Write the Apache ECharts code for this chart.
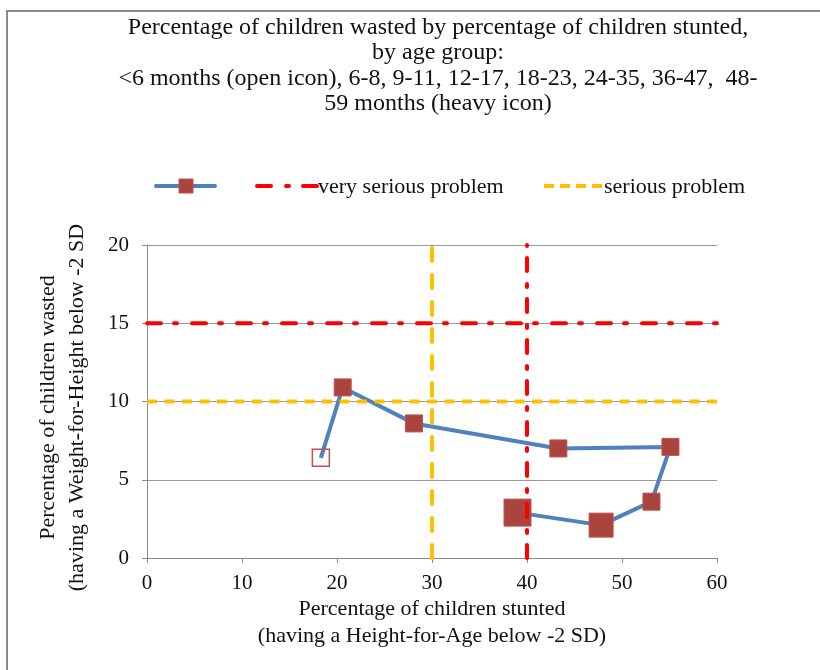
<!DOCTYPE html>
<html>
<head>
<meta charset="utf-8">
<script src="https://cdn.jsdelivr.net/npm/echarts@6/dist/echarts.min.js"></script>
<style>html,body{margin:0;padding:0;background:#fff;}#c{width:820px;height:670px;}</style>
</head>
<body>
<div id="c"></div>
<script>
// Data
var ageGroups = ['<6', '6-8', '9-11', '12-17', '18-23', '24-35', '36-47', '48-59'];
var stunted   = [18.3, 20.6, 28.1, 43.3, 55.1, 53.1, 47.8, 39.0];
var wasted    = [6.4, 10.9, 8.6, 7.0, 7.1, 3.6, 2.1, 2.9];
var verySeriousWasted = 15;   // horizontal threshold
var seriousWasted = 10;
var verySeriousStunted = 40;  // vertical threshold
var seriousStunted = 30;
var xTicks = [0, 10, 20, 30, 40, 50, 60];
var yTicks = [0, 5, 10, 15, 20];

var FONT = '"Liberation Serif", "Times New Roman", serif';
var chart = echarts.init(document.getElementById('c'), null, {renderer: 'canvas'});

var mainData = stunted.map(function (x, i) {
  var item = {name: ageGroups[i], value: [x, wasted[i]]};
  if (i === 0) {
    item.itemStyle = {color: 'rgba(255,255,255,0)', borderColor: '#C0504D', borderWidth: 1.5};
  }
  return item;
});

function sizeFor(i) {
  if (i === ageGroups.length - 1) return 27;
  if (i === ageGroups.length - 2) return 24;
  return 17;
}

var xMin = xTicks[0], xMax = xTicks[xTicks.length - 1];
var yMin = yTicks[0], yMax = yTicks[yTicks.length - 1];

var option = {
  backgroundColor: '#fff',
  animation: false,
  grid: {left: 147, right: 103, top: 245, bottom: 112, containLabel: false},
  xAxis: {
    type: 'value', min: xMin, max: xMax, interval: 10,
    name: 'Percentage of children stunted\n(having a Height-for-Age below -2 SD)',
    nameLocation: 'middle', nameGap: 38,
    nameTextStyle: {fontFamily: FONT, fontSize: 22, color: '#111', lineHeight: 27},
    axisLine: {show: true, lineStyle: {color: '#8a8a8a', width: 1}},
    axisTick: {show: true, length: 5, lineStyle: {color: '#8a8a8a'}},
    axisLabel: {fontFamily: FONT, fontSize: 21, color: '#111', margin: 15},
    splitLine: {show: false}
  },
  yAxis: {
    type: 'value', min: yMin, max: yMax, interval: 5,
    name: 'Percentage of children wasted\n(having a Weight-for-Height below -2 SD',
    nameLocation: 'middle', nameGap: 55, nameRotate: 90,
    nameTextStyle: {fontFamily: FONT, fontSize: 22, color: '#111', lineHeight: 29, padding: [0, 12, 0, 0]},
    axisLine: {show: true, lineStyle: {color: '#8a8a8a', width: 1}},
    axisTick: {show: true, length: 5, lineStyle: {color: '#8a8a8a'}},
    axisLabel: {fontFamily: FONT, fontSize: 21, color: '#111', margin: 18},
    splitLine: {show: true, lineStyle: {color: '#9a9a9a', width: 1}}
  },
  series: [
    {
      name: 'age groups', type: 'line', data: mainData,
      symbol: 'rect',
      symbolSize: function (v, p) { return sizeFor(p.dataIndex); },
      lineStyle: {color: '#4F81BD', width: 4},
      itemStyle: {color: '#A9443F', borderColor: '#C0504D', borderWidth: 1},
      z: 2
    },
    {
      name: 'serious problem h', type: 'line', symbol: 'none',
      data: [[xMin, seriousWasted], [xMax, seriousWasted]],
      lineStyle: {color: '#FFC000', width: 4, type: [10, 7.5]},
      z: 3
    },
    {
      name: 'serious problem v', type: 'line', symbol: 'none',
      data: [[seriousStunted, yMin], [seriousStunted, yMax]],
      lineStyle: {color: '#FFC000', width: 4, type: [13, 14], cap: 'round'},
      z: 3
    },
    {
      name: 'very serious problem h', type: 'line', symbol: 'none',
      data: [[xMin, verySeriousWasted], [xMax, verySeriousWasted]],
      lineStyle: {color: '#FF0000', width: 4, type: [14, 13, 3, 15], cap: 'round'},
      z: 4
    },
    {
      name: 'very serious problem v', type: 'line', symbol: 'none',
      data: [[verySeriousStunted, yMin], [verySeriousStunted, yMax]],
      lineStyle: {color: '#FF0000', width: 4, type: [13, 12, 3, 13], cap: 'round'},
      z: 4
    }
  ],
  graphic: [
    // outer frame
    {type: 'rect', shape: {x: 7, y: 11, width: 900, height: 900},
     style: {fill: 'none', stroke: '#8c8c8c', lineWidth: 2}, silent: true},
    // title
    {type: 'text', x: 438, y: 15,
     style: {text: 'Percentage of children wasted by percentage of children stunted,\nby age group:\n<6 months (open icon), 6-8, 9-11, 12-17, 18-23, 24-35, 36-47,  48-\n59 months (heavy icon)',
       font: '24px ' + FONT, fill: '#111', align: 'center', verticalAlign: 'top', lineHeight: 25.3}},
    // legend: main series
    {type: 'line', shape: {x1: 156, y1: 186, x2: 215, y2: 186},
     style: {stroke: '#4F81BD', lineWidth: 4, lineCap: 'round'}},
    {type: 'rect', shape: {x: 179, y: 179, width: 14, height: 14},
     style: {fill: '#A9443F', stroke: '#C0504D', lineWidth: 1}},
    // legend: very serious
    {type: 'line', shape: {x1: 257, y1: 186, x2: 317, y2: 186},
     style: {stroke: '#FF0000', lineWidth: 4, lineDash: [14, 15, 3, 14], lineCap: 'round'}},
    {type: 'text', x: 318, y: 187,
     style: {text: 'very serious problem', font: '22px ' + FONT, fill: '#111', verticalAlign: 'middle'}},
    // legend: serious
    {type: 'line', shape: {x1: 544, y1: 186, x2: 603, y2: 186},
     style: {stroke: '#FFC000', lineWidth: 4, lineDash: [10, 6]}},
    {type: 'text', x: 604, y: 187,
     style: {text: 'serious problem', font: '22px ' + FONT, fill: '#111', verticalAlign: 'middle'}}
  ]
};
chart.setOption(option);
</script>
</body>
</html>
